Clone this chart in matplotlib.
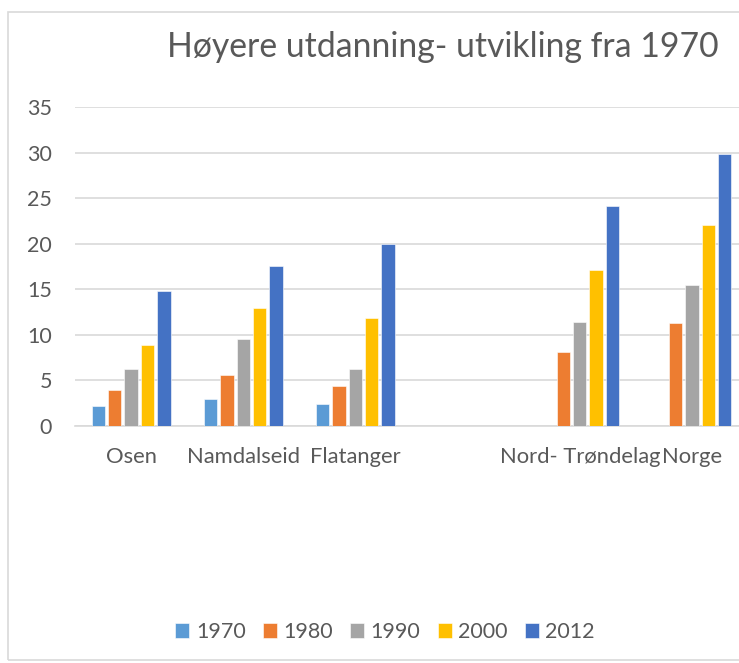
import numpy as np
import matplotlib
matplotlib.use("Agg")
import matplotlib.pyplot as plt
from matplotlib.patches import Rectangle

plt.rcParams['font.family'] = ['Lato', 'DejaVu Sans']

categories = ["Osen", "Namdalseid", "Flatanger", "", "Nord- Trøndelag", "Norge"]
years = ["1970", "1980", "1990", "2000", "2012"]
v1970 = [2.2, 3.0, 2.4, np.nan, np.nan, np.nan]
v1980 = [3.9, 5.6, 4.4, np.nan, 8.1, 11.3]
v1990 = [6.3, 9.5, 6.3, np.nan, 11.4, 15.5]
v2000 = [8.9, 13.0, 11.8, np.nan, 17.1, 22.0]
v2012 = [14.8, 17.6, 20.0, np.nan, 24.1, 29.8]
series = [v1970, v1980, v1990, v2000, v2012]
colors = ["#5B9BD5", "#ED7D31", "#A5A5A5", "#FFC000", "#4472C4"]

W, H = 739, 663
fig = plt.figure(figsize=(W / 100, H / 100), dpi=100)

# chart border
fig.patches.append(Rectangle((8 / W, 3 / H), 1.2, (657 - 11) / H + 0.003,
                             transform=fig.transFigure, fill=False,
                             edgecolor="#D9D9D9", linewidth=1.2))

ax = fig.add_axes([75 / W, 1 - 426 / H, 673 / W, (426 - 107) / H])

x = np.arange(len(categories))
slot = 0.146
for i, (vals, c, yr) in enumerate(zip(series, colors, years)):
    ax.bar(x + (i - 2) * slot, vals, width=0.119, color=c, label=yr,
           edgecolor="white", linewidth=0.4, zorder=3)

ax.set_xlim(-0.5, len(categories) - 0.5)
ax.set_ylim(0, 35)
ax.set_yticks(range(0, 36, 5))
ax.set_xticks(x)
ax.set_xticklabels(categories)
ax.grid(axis="y", color="#D9D9D9", linewidth=1.2, zorder=0)
for s in ["top", "right", "left"]:
    ax.spines[s].set_visible(False)
ax.spines["bottom"].set_color("#D9D9D9")
ax.spines["bottom"].set_linewidth(1.2)
ax.tick_params(axis="both", length=0, colors="#595959")
ax.tick_params(axis="y", pad=16.5, labelsize=15.5)
ax.tick_params(axis="x", pad=15, labelsize=15.8)

fig.text(443 / W, 1 - 57 / H, "Høyere utdanning- utvikling fra 1970",
         ha="center", va="baseline", fontsize=24.3, color="#595959")

leg = fig.legend(loc="center", bbox_to_anchor=(385 / W, 1 - 632 / H), ncol=5,
                 frameon=False, fontsize=15.5, handlelength=0.65, handleheight=0.65,
                 handletextpad=0.3, columnspacing=0.8)
for t in leg.get_texts():
    t.set_color("#595959")

fig.savefig("out.png", dpi=100)
